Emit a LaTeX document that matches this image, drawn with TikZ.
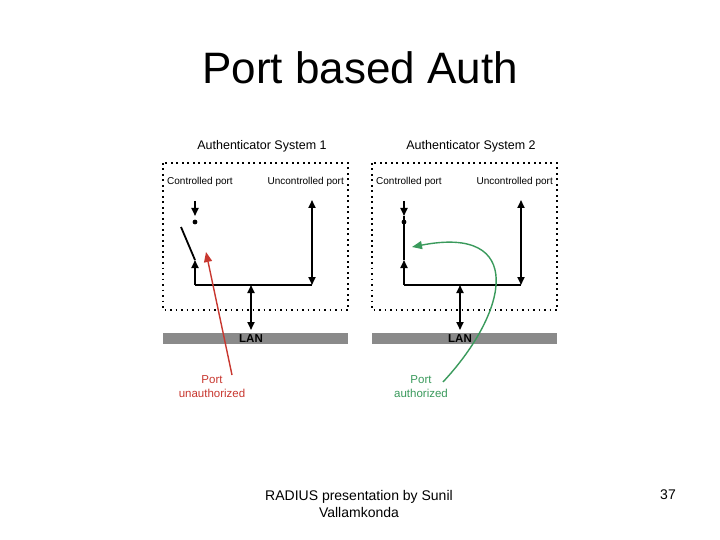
\documentclass[tikz,border=0pt]{standalone}
\usepackage{fontspec}
\setmainfont{Liberation Sans}
\usetikzlibrary{arrows.meta}
\definecolor{redacc}{HTML}{C8372F}
\definecolor{greenacc}{HTML}{3A9A5C}
\definecolor{lanbar}{HTML}{8A8A8A}
\tikzset{wire/.style={line width=1.8pt,black},
tip/.style={-{Triangle[length=8pt,width=7pt]}},
dtip/.style={{Triangle[length=8pt,width=7pt]}-{Triangle[length=8pt,width=7pt]}},
frame/.style={line width=1.7pt,dash pattern=on 1.7pt off 3.8pt},
portlabel/.style={font=\fontsize{10}{11}\selectfont,inner sep=0pt},
statelabel/.style={align=center,font=\fontsize{11.5}{14}\selectfont,inner sep=0pt},
flow/.style={line width=1.4pt,-{Triangle[length=10pt,width=8pt]}}}

\begin{document}
\begin{tikzpicture}[x=1pt,y=-1pt]
\fill[white] (0,0) rectangle (720,540);
\useasboundingbox (0,0) rectangle (720,540);
\node (title) at (360,68) {\fontsize{44}{50}\selectfont Port based Auth};
\foreach \offset/\n/\closed in {163/1/0,372/2/1} {
\begin{scope}[xshift=\offset pt]
\node (sys\n) at (99,146) {\fontsize{12.5}{14}\selectfont Authenticator System \n};
\draw[frame] (0,163) rectangle (185,310);
\node[portlabel,anchor=west] (ctl\n) at (4,182) {Controlled port};
\node[portlabel,anchor=east] (unc\n) at (181,182) {Uncontrolled port};
\node[fill=lanbar,minimum width=185pt,minimum height=11pt,inner sep=0pt,anchor=north west] (lan\n) at (0,333) {};
\node[font=\fontsize{11.5}{12}\bfseries,inner sep=0pt] (lantext\n) at (88,338.5) {LAN};
\coordinate (ctop\n) at (32,201);
\coordinate (cmid\n) at (32,216);
\coordinate (cdot\n) at (32,222);
\coordinate (cup\n) at (32,260);
\coordinate (cbot\n) at (32,285);
\coordinate (utop\n) at (149,200);
\coordinate (ubot\n) at (149,285);
\coordinate (ltop\n) at (88,285);
\draw[wire,tip] (ctop\n) -- (cmid\n);
\fill (cdot\n) circle (2.4pt);
\draw[wire,tip] (cbot\n) -- (cup\n);
\draw[wire] (cbot\n) -- (ubot\n);
\draw[wire,dtip] (utop\n) -- (ubot\n);
\draw[wire,dtip] (ltop\n) -- ([yshift=3pt]lan\n.north -| ltop\n);
\ifnum\closed=1
\draw[wire] (cmid\n) -- (cup\n);
\else
\coordinate (swing\n) at (18,227);
\draw[wire] (swing\n) -- (cup\n);
\fi
\end{scope}}
% port states
\node[statelabel,redacc] (unauth) at (212,387) {Port\\unauthorized};
\node[statelabel,greenacc] (auth) at (421,387) {Port\\authorized};
\coordinate (redtail) at (232,375);
\coordinate (redtip) at (206,252);
\draw[flow,redacc] (redtail) -- (redtip);
\coordinate (greentail) at (443,382);
\coordinate (greentip) at (412,247);
\draw[flow,greenacc] (greentail) .. controls (510,310) and (525,225) .. (greentip);
% footer
\node[align=center,font=\fontsize{14}{17}\selectfont] (footer) at (359,504) {RADIUS presentation by Sunil\\Vallamkonda};
\node[font=\fontsize{14}{17}\selectfont] (pagenum) at (668,495) {37};
\end{tikzpicture}
\end{document}
